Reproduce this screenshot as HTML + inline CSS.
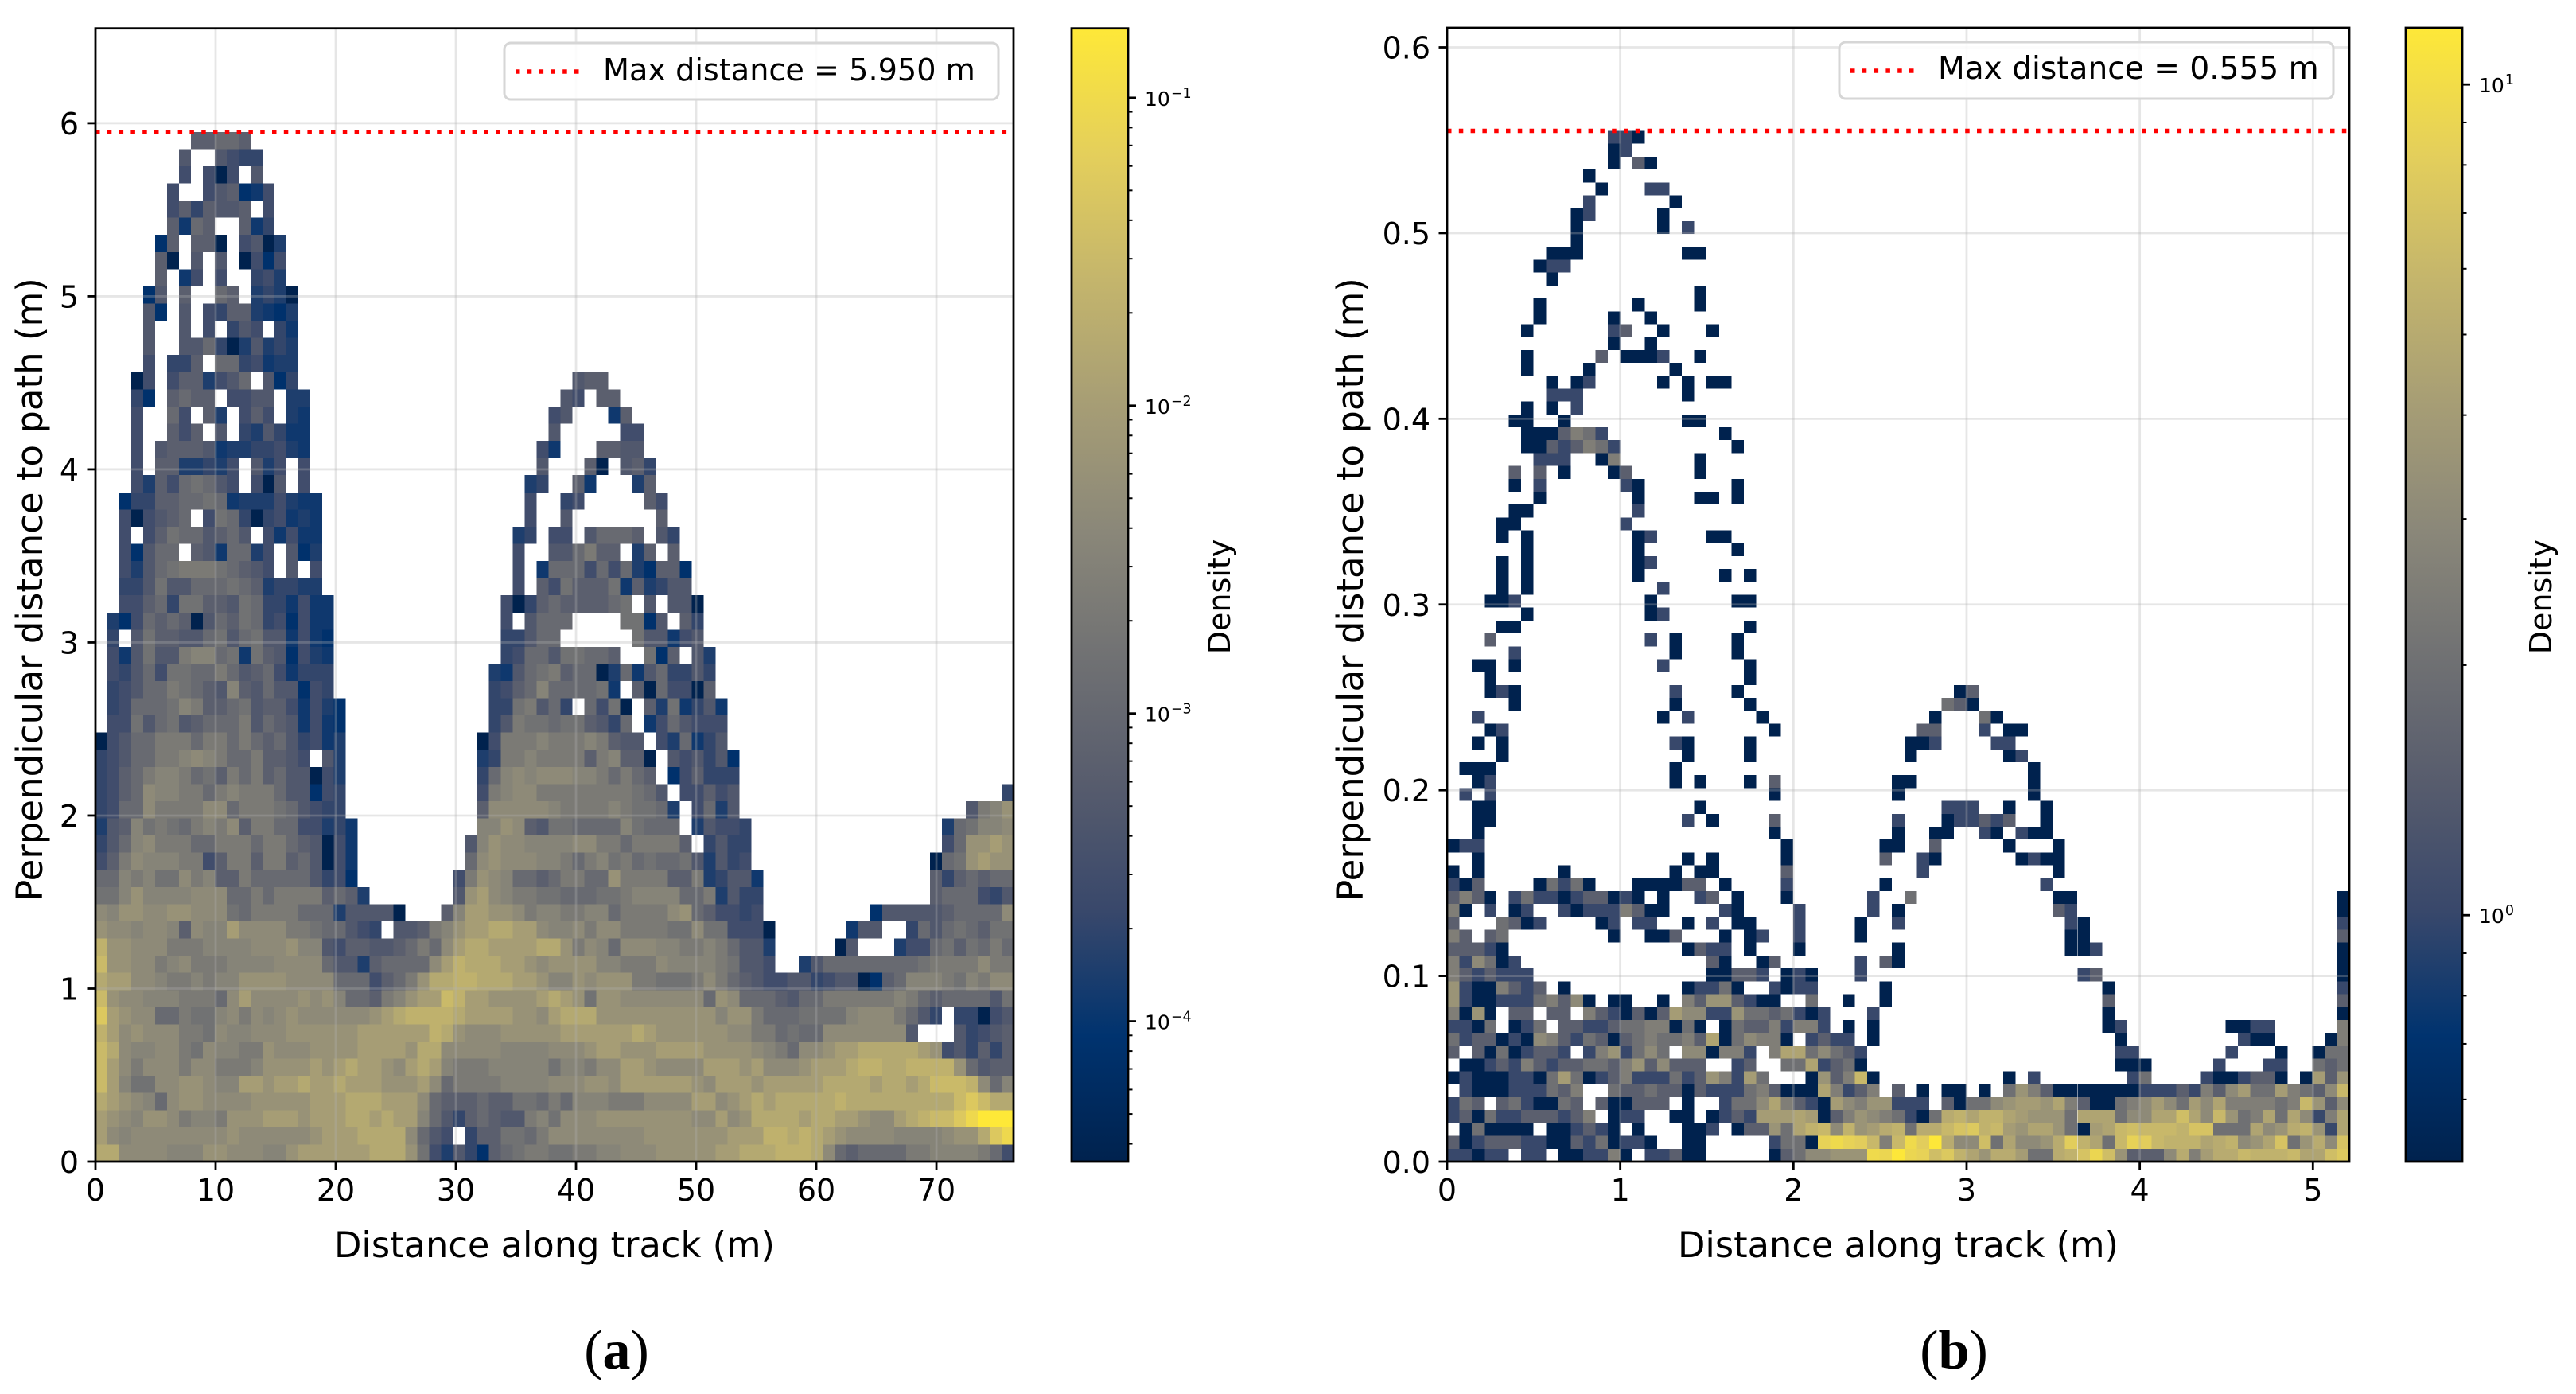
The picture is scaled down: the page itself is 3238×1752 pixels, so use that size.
<!DOCTYPE html>
<html><head><meta charset="utf-8"><title>Perpendicular distance density</title>
<style>html,body{margin:0;padding:0;background:#fff}svg{display:block}text{font-family:"DejaVu Sans","Liberation Sans",sans-serif;fill:#000}</style></head>
<body>
<svg id="fig" xmlns="http://www.w3.org/2000/svg" width="3238" height="1752" viewBox="0 0 3238 1752">
<g id="panelA"></g>
<g id="panelB"></g>
<text x="775" y="1720" text-anchor="middle" style="font-family:'Liberation Serif',serif;font-size:70px">(<tspan font-weight="bold">a</tspan>)</text>
<text x="2456" y="1720" text-anchor="middle" style="font-family:'Liberation Serif',serif;font-size:70px">(<tspan font-weight="bold">b</tspan>)</text>
</svg>
<script>
// ---------- panel (a) data: each row runs top to bottom, "startBin:levelCodes" runs ----------
const xTicksA = [0,10,20,30,40,50,60,70];
const yTicksA = [0,1,2,3,4,5,6];
const yTickLabelsA = ["0","1","2","3","4","5","6"];
const maxDistanceA = 5.95;
const maxLabelA = "Max distance = 5.950 m";
const cbTicksA = [0.1,0.01,0.001,0.0001];
const cbExponentsA = ["\u22121","\u22122","\u22123","\u22124"];
const levelFractionsA = [0,.10,.14,.17,.21,.25,.31,.35,.41,.45,.49,.54,.57,.61,.667,.72,.76,.80,.86,.93,1];
const heatRowsA = [
"8:77887","7:6 10:6544","7:5 9:505 13:6","6:5 9:567125","6:5747667 14:5","6:7287 12:724",
"5:17 8:770 12:5603","5:70 8:6 10:6 12:0515","5:7 7:25 10:5 13:453","4:16 7:7 10:87 13:3430",
"4:61 7:6 9:54773213","4:6 7:6 9:5 11:465 15:42","4:6 7:6684036343","4:5 6:447 10:8845233",
"3:05 6:5773568 14:614 40:677","3:41 6:7877 11:5566 16:33 39:65 42:77",
"3:5 6:85 9:73 12:575 16:32 38:56 43:27","3:5 6:757 10:6 12:436422 38:6 44:55",
"3:5 5:6777623344532 37:52 42:7766","3:5 5:7733435 13:635 17:5 37:6 41:70 44:674",
"3:537589865 13:506 17:5 36:34 40:72 45:37","2:14477889823335322 36:5 39:45 46:75",
"2:505678 9:5984045232 36:5 39:6 47:7","2:5 4:579886786 14:52522 35:34 38:55 41:68887 47:64",
"2:51688 8:7628835 16:613 35:5 38:668a77 45:37 48:7","2:53689aaa98765 16:6 18:5 35:5 37:2888585831771",
"2:44696688898734433 35:5 37:7597779273466","2:557849977698442522 34:50478777789 46:6 48:660",
"1:3158787068798451522 34:5 36:6888 44:9916 49:74","1:4 3:69776689689662521 34:44688 45:966256",
"1:526966abb8929761532 34:4588699887 46:917 50:63","1:546859988a867852444 33:32689a7880382684464",
"1:45688a9876b76866154 33:4578b888892 45:7085507","1:458889ba778967752531 33:449a684 41:8590 46:7392462",
"1:55968967888a68762521 33:46a998997648 46:2586555","0:05688aaa8aa8a87864523 32:05aaabaaaba766 47:538246",
"0:45688aabcba88a7765 19:63 32:34aabaaaa7ab770 48:656461","0:4578abba897a8a7866053 32:48bcbcccbba8a87 48:157444",
"0:4578cbbaa8abaaa866154 32:5abccaaaaaaaa986 49:55756 76:4",
"0:4588caaaacc8aaa986544 32:7cccccbaaaaba9983 50:5836 73:6abd",
"0:367b9a98abac7aa8855342 32:bbdc76998888b9888 50:36554 71:389bbc",
"0:468bcaaa88aaa8aa876052 31:6bdccbbbbccaa8aaaa7 51:4644 71:58dded",
"0:57acbbbaa57aa7aa786052 31:8cdcccbba8ab9a8988963645 70:089dedd",
"0:88bab99cab77a888886451 30:5adcb8878aa88daaaa77a34662 70:7478788",
"0:99bdbbbbccc88a8aaaa7873 30:6decbaa9988899abbbb88a3644 70:7888546",
"0:cbddccddccc98aaaa888366660 29:7beeddcabbaabb8aaaacd875545 65:16666678888c",
"0:dccbccb7cbbeccccaa988654 25:667abdeeffeecbbcaccaaaa99c995550 63:266 68:486898799",
"0:gddcccaaabbbbcccdbb65776678a8ceffeeeeffdacb8cccbbaaba8663 62:06 67:35589798a8",
"0:hddccabcaaabbbbcccc866378888cegfffeedcddddbbaaacbbbba9665 59:36888888889aaaacaa",
"0:feeccbaababbddddcccc888578adffggfffeedbbdcdddaa999aca876556645660178bbba9bacc",
"0:hdccbbbaaa8ceccccdcdb887abdeehgeeddddefed9ddccccccc8dc8887688aaaaaaba87888869",
"0:iedcc88a99bcacbcdccccccdefggggfeeeeddcefffddddddddddbdda8889999bccca864 72:44056",
"0:gecdcccaa9cbbcccddddddeeeeeegfdcccdddddeeeeeefeddddddccaa8988ccccccc6 72:64567",
"0:hfcbbcca9cbbaadcccddddeeeedffcccccbbbbcccdeedddeeeeddddcba8ccdeefffffed564747",
"0:hecacccaccaaabddddedefeedcefebaaabbbbb9bbacceedcccceeedecccdeeefggffggggd8677",
"0:heb99ccddcbbeedeefeefeeedddec8aaaabbbbcccddceeeeeedceeedeeeeeffffeffefhhhgc8b",
"0:fedcb8cddccccdddddeeefffeeec8777877998a8bbbaaacccceecdefefffffgfffffffffhihff",
"0:edcbddcabbadddeeedeeeffefeeb86478766ab9cccddddddddccecdffffeffeedccefghhijkkk",
"0:ecbccccccccdccccccdeeeffffc865 31:477998accccccccdddddddeeeggfgfedccccbbbbcddfij",
"0:ffccccbbbddcccbbdeeeeeefffd953641789aa99aabbcccdddddeefffgggfc878888aabbbba85"
];
// ---------- panel (b) data: same run format, codes are base-36 sample counts per bin ----------
const xTicksB = [0,1,2,3,4,5];
const yTicksB = [0,0.1,0.2,0.3,0.4,0.5,0.6];
const yTickLabelsB = ["0.0","0.1","0.2","0.3","0.4","0.5","0.6"];
const maxDistanceB = 0.555;
const maxLabelB = "Max distance = 0.555 m";
const cbTicksB = [10,1];
const cbExponentsB = ["1","0"];
const densityPerCountB = 0.505;
const heatRowsB = [
"13:221","13:12","13:1 15:31","11:1","12:1 16:22","11:2 18:1","10:12 17:1","10:1 17:1 19:2","10:1","8:111 19:11",
"7:122","8:1","20:1","7:1 15:1 20:1","7:1 13:1 16:1","6:1 13:23 17:1 21:1","13:1 16:1","6:1 12:3 14:1112 20:1",
"6:1 11:1 18:1","8:1 10:12 17:1 19:1 21:11","8:222 19:1","6:1 8:1 10:2","5:11 9:1 19:11","6:1113542 22:1",
"6:11323542 23:1","7:222 12:15 20:1","5:3 7:3 9:1 13:13 20:1","5:1 7:2 14:21 23:1","7:1 15:1 20:11 23:1",
"5:11 15:2","4:11 14:2","4:1 6:1 15:12 21:11","6:1 15:1 23:1","4:1 6:1 15:12","4:1 6:1 15:1 22:1 24:1",
"4:1 6:1 17:2","3:112 16:1 23:11","6:1 16:12","4:11 24:1","3:3 16:2 18:1 23:1","5:2 18:1 23:1",
"2:11 5:1 17:2 24:1","3:1 24:1","3:121 18:2 23:1 41:13","5:1 18:1 24:1 40:431","2:2 17:1 19:2 25:1 39:1 43:41",
"3:12 26:1 38:33 43:2 45:11","2:1 4:1 18:21 24:1 37:112 44:22","4:1 19:1 24:1 37:1 45:12","1:111 18:1 47:1",
"2:12 18:1 20:1 24:1 26:3 36:11 47:1","1:2 3:2 26:1 36:1 47:1","2:11 20:1 40:222 45:1 48:1",
"2:11 19:2 21:1 26:3 36:2 40:122323 48:1","2:1 26:1 36:1 39:11 43:21 46:211","0:122 27:1 35:11 39:3 45:1 49:1",
"2:1 19:1 21:1 27:1 35:3 38:21 46:1211","0:1 2:1 9:1 18:1 20:11 27:3 38:2 49:1",
"0:213 7:14241 15:111133 22:1 27:2 35:1 48:2",
"0:3531 5:24221233121 17:1 20:23 23:1 27:1 34:2 37:4 49:11 72:1",
"0:51 3:2 5:12 9:212225311 22:21 28:2 34:2 36:1 49:32 72:1",
"0:3 4:4312 12:12 15:22 19:1 21:2 23:11 28:2 33:1 36:2 50:21 72:2",
"0:53 3:34 13:1 16:113 22:1 24:12 28:2 33:1 50:11 72:3",
"0:33321 19:1322 24:1 28:1 36:1 50:112 72:1",
"0:526412 21:31 25:13 33:2 35:31 72:1",
"0:5323222 21:11332 27:121 33:2 51:23 72:1",
"0:72115323 9:1 19:12241 26:2122 35:1 53:1 72:2",
"0:721122245361 13:11 17:1 19:53773211 29:4 32:1 35:1 53:3 72:3",
"0:5171 5:33 8:33 11:53213138662274434212 34:2 53:1 72:1",
"0:2214 5:124 9:332234455141 22:143352552 32:1 34:1 53:12 63:1122 72:5",
"0:4233121653243134544539146551 29:2322 34:1 54:1 64:211 71:15",
"0:3 2:31412332 11:2572464 19:661552 26:59946432 54:22 63:2 67:1 70:144",
"1:11232532334435736333 23:23 27:4492341 54:111 62:2 66:22 70:434",
"0:12111221484123522242375284 29:1735c1 45:1 47:2 55:24 61:2112331 69:1837",
"1:2111222435 13:4334331322245311195235 36:3 38:1 40:11 43:1 45:475311111112223253684485436c",
"0:243 4:3421143 12:311333 19:1 22:24469532186577222 40:31446788795311456864869555545c736",
"0:231422333235 13:122 18:11 21:1232888981357654214ab9bb98777499946699d96c7459496259",
"1:141111 8:112321 15:1 19:112 23:133749bc6b78ab4aacefbc879974189cdcccbee444967ab729",
"0:31233322113241221 19:11 26:2441hjhgc5cjgna66d49667agb94chgcbbb9ab679e47a6e",
"0:22122 6:22 9:112251 16:22311 26:13466777jinihdfb97aa844abeid73336a58aacbbbc99df"
];

// ---------- colormap ----------
const cividisStops = [[0,34,78],[0,51,111],[57,72,107],[87,92,109],[112,113,115],[138,135,121],[166,157,117],[196,181,108],[228,207,91],[254,232,56]];
function cividis(t){
  t=Math.max(0,Math.min(1,t));
  const p=t*(cividisStops.length-1),i=Math.min(Math.floor(p),cividisStops.length-2),f=p-i;
  const a=cividisStops[i],b=cividisStops[i+1];
  return "rgb("+[0,1,2].map(k=>Math.round(a[k]+(b[k]-a[k])*f)).join(",")+")";
}
const NS="http://www.w3.org/2000/svg";
function mk(parent,tag,attrs,txt){
  const el=document.createElementNS(NS,tag);
  for(const k in attrs) el.setAttribute(k,attrs[k]);
  if(txt!==undefined) el.textContent=txt;
  parent.appendChild(el);
  return el;
}
function drawPanel(c){
  const g=document.getElementById(c.id);
  const xS=d=>c.L+(d/c.xMax)*(c.R-c.L);
  const yS=d=>c.B-(d/c.yMax)*(c.B-c.T);
  const lognorm=v=>Math.log(v/c.vmin)/Math.log(c.vmax/c.vmin);
  const cbY=v=>c.B-lognorm(v)*(c.B-c.T);
  const cells=mk(g,"g",{"shape-rendering":"crispEdges"});
  
  
  const bw=c.xMax/c.nx, bh=c.maxD/c.rows.length;
  c.rows.forEach((row,ri)=>{
    const binFromBottom=c.rows.length-1-ri;
    row.trim().split(/\s+/).forEach(run=>{
      const parts=run.split(":");
      const start=+parts[0];
      [...parts[1]].forEach((ch,j)=>{
        if(ch==="."||ch===" "||start+j>=c.nx) return;
        const density=c.decode(ch);
        const x0=xS((start+j)*bw),x1=xS((start+j+1)*bw),y1=yS(binFromBottom*bh),y0=yS((binFromBottom+1)*bh);
        const r=mk(cells,"rect",{x:x0.toFixed(2),y:y0.toFixed(2),width:(x1-x0).toFixed(2),height:(y1-y0).toFixed(2),fill:cividis(lognorm(density))});
        
        
      });
    });
  });
  // grid
  c.xTicks.forEach(t=>{
    const l=mk(g,"line",{x1:xS(t),x2:xS(t),y1:c.T,y2:c.B,stroke:"#b0b0b0","stroke-opacity":.32,"stroke-width":2.8});
    
    
  });
  c.yTicks.forEach(t=>{
    const l=mk(g,"line",{x1:c.L,x2:c.R,y1:yS(t),y2:yS(t),stroke:"#b0b0b0","stroke-opacity":.32,"stroke-width":2.8});
    
    
  });
  // max line
  const ml=mk(g,"line",{x1:c.L,x2:c.R,y1:yS(c.maxD),y2:yS(c.maxD),stroke:"#ff0000","stroke-width":5.5,"stroke-dasharray":"5.5 9.3"});
  
  
  // spines
  const sp=mk(g,"rect",{x:c.L,y:c.T,width:c.R-c.L,height:c.B-c.T,fill:"none",stroke:"#000","stroke-width":2.8});
  
  
  // ticks + labels
  c.xTicks.forEach(t=>{
    const l=mk(g,"line",{x1:xS(t),x2:xS(t),y1:c.B,y2:c.B+10.5,stroke:"#000","stroke-width":2.8});
    
    
    const tx=mk(g,"text",{x:xS(t),y:1509,"text-anchor":"middle","font-size":38},String(t));
    
    
  });
  c.yTicks.forEach((t,i)=>{
    const l=mk(g,"line",{x1:c.L-10.5,x2:c.L,y1:yS(t),y2:yS(t),stroke:"#000","stroke-width":2.8});
    
    
    const tx=mk(g,"text",{x:c.L-21,y:yS(t)+14,"text-anchor":"end","font-size":38},c.yLabels[i]);
    
    
  });
  const xl=mk(g,"text",{x:(c.L+c.R)/2,y:1580,"text-anchor":"middle","font-size":44.7},"Distance along track (m)");
  
  
  const yl=mk(g,"text",{transform:"translate("+c.yLabelX+",741) rotate(-90)","text-anchor":"middle","font-size":45},"Perpendicular distance to path (m)");
  
  
  // legend
  const lb=mk(g,"rect",{x:c.legX,y:c.legY,width:c.legW,height:71,rx:8,ry:8,fill:"#fff","fill-opacity":.85,stroke:"#d6d6d6","stroke-width":3});
  
  
  const ls=mk(g,"line",{x1:c.legX+14,x2:c.legX+95,y1:c.legY+36,y2:c.legY+36,stroke:"#ff0000","stroke-width":5.5,"stroke-dasharray":"5.5 9.3"});
  
  
  const lt=mk(g,"text",{x:c.legX+124,y:c.legY+c.legBase,"font-size":c.legFont},c.maxLabel);
  
  
  // colorbar
  const defs=mk(g,"defs",{});
  const grad=mk(defs,"linearGradient",{id:c.id+"grad",x1:0,y1:1,x2:0,y2:0});
  cividisStops.forEach((s,i)=>mk(grad,"stop",{offset:i/(cividisStops.length-1),"stop-color":"rgb("+s.join(",")+")"}));
  const cb=mk(g,"rect",{x:c.cbL,y:c.T,width:c.cbR-c.cbL,height:c.B-c.T,fill:"url(#"+c.id+"grad)",stroke:"#000","stroke-width":2.8});
  
  
  const lo=Math.floor(Math.log10(c.vmin)),hi=Math.ceil(Math.log10(c.vmax));
  for(let d=lo;d<hi;d++){
    for(let m=2;m<=9;m++){
      const v=m*Math.pow(10,d);
      if(v<c.vmin||v>c.vmax) continue;
      const l=mk(g,"line",{x1:c.cbR,x2:c.cbR+5.5,y1:cbY(v),y2:cbY(v),stroke:"#000","stroke-width":2});
      
      
    }
  }
  c.cbTicks.forEach((v,i)=>{
    const y=cbY(v);
    const l=mk(g,"line",{x1:c.cbR,x2:c.cbR+10,y1:y,y2:y,stroke:"#000","stroke-width":2.8});
    
    
    const tx=mk(g,"text",{x:c.cbR+21,y:y+10,"font-size":25},"10");
    
    
    mk(tx,"tspan",{dy:-10,dx:1,"font-size":17.5},c.cbExp[i]);
  });
  const dl=mk(g,"text",{transform:"translate("+c.cbTitleX+",750) rotate(-90)","text-anchor":"middle","font-size":38},"Density");
  
  
}
const vminA=3.5e-5,vmaxA=0.168;
drawPanel({id:"panelA",L:120,R:1274,T:35.7,B:1460,xMax:76.42,yMax:6.548,nx:77,maxD:maxDistanceA,
  rows:heatRowsA,decode:ch=>vminA*Math.pow(vmaxA/vminA,levelFractionsA[parseInt(ch,36)]),
  vmin:vminA,vmax:vmaxA,xTicks:xTicksA,yTicks:yTicksA,yLabels:yTickLabelsA,maxLabel:maxLabelA,
  yLabelX:53,legX:634,legY:54,legW:621,legFont:38.2,legBase:47,cbL:1347,cbR:1418,cbTicks:cbTicksA,cbExp:cbExponentsA,cbTitleX:1546});
drawPanel({id:"panelB",L:1819,R:2953,T:35,B:1460,xMax:5.21,yMax:0.6105,nx:73,maxD:maxDistanceB,
  rows:heatRowsB,decode:ch=>parseInt(ch,36)*densityPerCountB,
  vmin:0.505,vmax:11.7,xTicks:xTicksB,yTicks:yTicksB,yLabels:yTickLabelsB,maxLabel:maxLabelB,
  yLabelX:1713,legX:2312,legY:53,legW:621,legFont:39.1,legBase:46,cbL:3024,cbR:3095,cbTicks:cbTicksB,cbExp:cbExponentsB,cbTitleX:3207});
</script>
</body></html>
